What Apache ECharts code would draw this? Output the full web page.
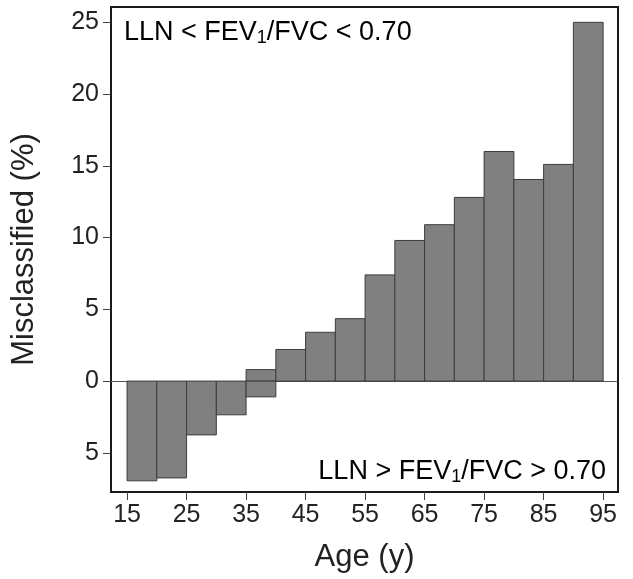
<!DOCTYPE html>
<html>
<head>
<meta charset="utf-8">
<script src="https://cdn.jsdelivr.net/npm/echarts@6/dist/echarts.min.js"></script>
<style>
html,body{margin:0;padding:0;background:#fff;}
#chart{width:633px;height:579px;}
</style>
</head>
<body>
<div id="chart"></div>
<script>
// Age bins (start, end) in years
const binStart = [15, 20, 25, 30, 35, 40, 45, 50, 55, 60, 65, 70, 75, 80, 85, 90];
const binEnd   = [20, 25, 30, 35, 40, 45, 50, 55, 60, 65, 70, 75, 80, 85, 90, 95];
// LLN < FEV1/FVC < 0.70 (positive, %)
const upperValues = [null, null, null, null, 0.8, 2.2, 3.4, 4.35, 7.4, 9.8, 10.9, 12.8, 16.0, 14.05, 15.1, 25.0];
// LLN > FEV1/FVC > 0.70 (shown below zero, %)
const lowerValues = [-6.95, -6.75, -3.75, -2.35, -1.1, null, null, null, null, null, null, null, null, null, null, null];
// tick labels
const xTicks = [15, 25, 35, 45, 55, 65, 75, 85, 95];
const yTicks = [-5, 0, 5, 10, 15, 20, 25];

const FONT = "'Liberation Sans', Arial, Helvetica, sans-serif";

function toData(vals) {
  const out = [];
  for (let i = 0; i < vals.length; i++) {
    if (vals[i] !== null) out.push([binStart[i], binEnd[i], vals[i]]);
  }
  return out;
}

function renderBar(params, api) {
  const x0 = api.value(0), x1 = api.value(1), v = api.value(2);
  const p0 = api.coord([x0, 0]);
  const p1 = api.coord([x1, v]);
  return {
    type: 'rect',
    shape: {
      x: p0[0],
      y: Math.min(p0[1], p1[1]),
      width: p1[0] - p0[0],
      height: Math.abs(p1[1] - p0[1])
    },
    style: { fill: '#808080', stroke: '#3c3c3c', lineWidth: 1 }
  };
}

const chart = echarts.init(document.getElementById('chart'), null, { renderer: 'canvas' });

const richA = { fontSize: 27, fontFamily: FONT, color: '#222', lineHeight: 30 };
const richS = { fontSize: 18, fontFamily: FONT, color: '#222', lineHeight: 20, verticalAlign: 'bottom' };

chart.setOption({
  animation: false,
  backgroundColor: '#fff',
  grid: {
    left: 111, right: 15, top: 7, bottom: 87,
    show: true, borderColor: '#1a1a1a', borderWidth: 2, backgroundColor: 'transparent'
  },
  xAxis: {
    type: 'value',
    min: 12.3, max: 97.5,
    name: 'Age (y)',
    nameLocation: 'middle',
    nameGap: 50,
    nameTextStyle: { fontSize: 31, fontFamily: FONT, color: '#222' },
    axisLine: { show: true, onZero: false, lineStyle: { color: '#1a1a1a', width: 2 } },
    axisTick: { show: true, customValues: xTicks, length: 8, lineStyle: { color: '#444', width: 1 } },
    axisLabel: { customValues: xTicks, fontSize: 25, fontFamily: FONT, color: '#222', margin: 11 },
    splitLine: { show: false }
  },
  yAxis: {
    type: 'value',
    min: -7.73, max: 26.07,
    name: 'Misclassified (%)',
    nameLocation: 'middle',
    nameGap: 71,
    nameRotate: 90,
    nameTextStyle: { fontSize: 31, fontFamily: FONT, color: '#222' },
    axisLine: { show: true, onZero: false, lineStyle: { color: '#1a1a1a', width: 2 } },
    axisTick: { show: true, customValues: yTicks, length: 8, lineStyle: { color: '#444', width: 1 } },
    axisLabel: {
      customValues: yTicks, fontSize: 25, fontFamily: FONT, color: '#222', margin: 12,
      formatter: function (v) { return String(Math.abs(v)); }
    },
    splitLine: { show: false }
  },
  series: [
    {
      type: 'custom',
      name: 'upper',
      renderItem: renderBar,
      data: toData(upperValues),
      encode: { x: [0, 1], y: 2 },
      z: 3,
      markLine: {
        silent: true,
        symbol: 'none',
        label: { show: false },
        lineStyle: { color: '#555', width: 1, type: 'solid' },
        data: [[{ coord: [12.3, 0] }, { coord: [97.5, 0] }]],
        z: 2
      }
    },
    {
      type: 'custom',
      name: 'lower',
      renderItem: renderBar,
      data: toData(lowerValues),
      encode: { x: [0, 1], y: 2 },
      z: 3
    }
  ],
  graphic: [
    {
      type: 'text',
      left: 124,
      top: 19,
      style: {
        text: '{a|LLN < FEV}{s|1}{a|/FVC < 0.70}',
        rich: { a: richA, s: richS }
      }
    },
    {
      type: 'text',
      right: 27,
      top: 458,
      style: {
        text: '{a|LLN > FEV}{s|1}{a|/FVC > 0.70}',
        rich: { a: richA, s: richS }
      }
    }
  ]
});
</script>
</body>
</html>
